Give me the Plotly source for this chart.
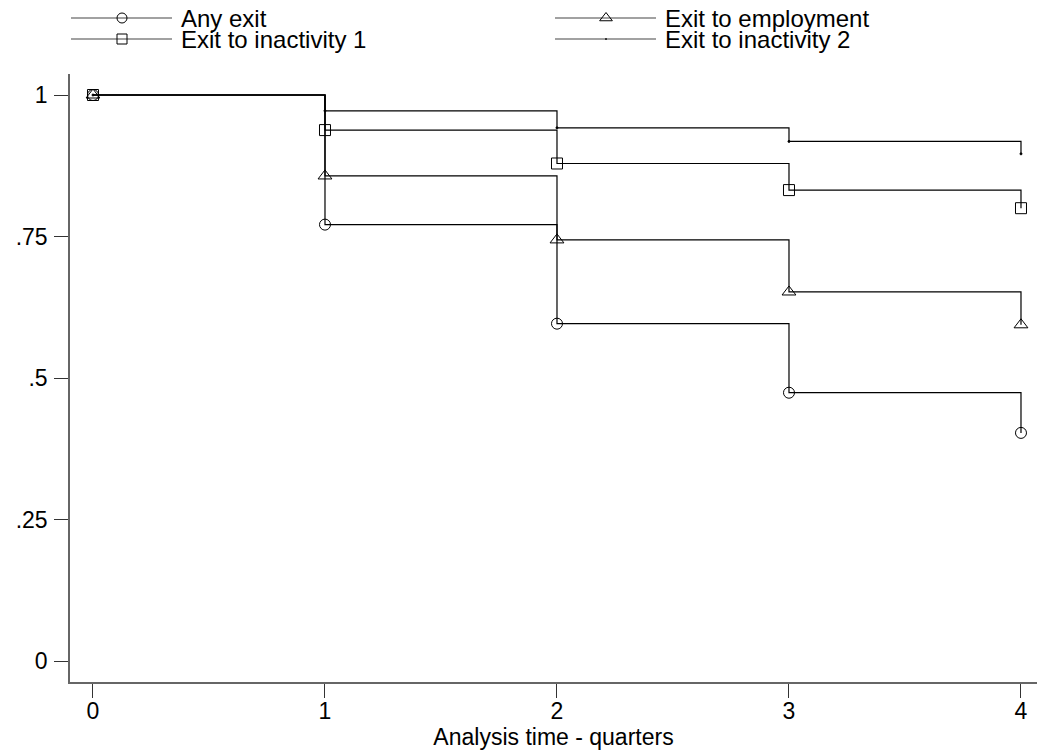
import plotly.graph_objects as go

# ---- data ----
times = [0, 1, 2, 3, 4]
any_exit = [1.0, 0.771, 0.596, 0.474, 0.403]
exit_employment = [1.0, 0.857, 0.744, 0.652, 0.594]
exit_inactivity1 = [1.0, 0.938, 0.879, 0.832, 0.800]
exit_inactivity2 = [1.0, 0.972, 0.942, 0.918, 0.896]

series_names = ["Any exit", "Exit to employment", "Exit to inactivity 1", "Exit to inactivity 2"]
x_ticks = [0, 1, 2, 3, 4]
y_ticks = [0, 0.25, 0.5, 0.75, 1]
y_ticktext = ["0", ".25", ".5", ".75", "1"]

W, H = 1037, 753
FONT = "Liberation Sans, Arial, sans-serif"

styles = {
    "Any exit": dict(symbol="circle-open", size=11),
    "Exit to employment": dict(symbol="triangle-up-open", size=12),
    "Exit to inactivity 1": dict(symbol="square-open", size=11),
    "Exit to inactivity 2": dict(symbol="circle", size=2),
}
values = {
    "Any exit": any_exit,
    "Exit to employment": exit_employment,
    "Exit to inactivity 1": exit_inactivity1,
    "Exit to inactivity 2": exit_inactivity2,
}

fig = go.Figure()
for name in series_names:
    st = styles[name]
    fig.add_trace(go.Scatter(
        x=times, y=values[name], mode="lines+markers", line_shape="hv",
        line=dict(color="black", width=1.2),
        marker=dict(symbol=st["symbol"], size=st["size"], color="black",
                    line=dict(color="black", width=1)),
        name=name, showlegend=False, xaxis="x", yaxis="y",
    ))

# ---- custom legend (pixel-space overlay axes) ----
leg_pos = {
    "Any exit": (71, 18),
    "Exit to employment": (555, 18),
    "Exit to inactivity 1": (71, 39),
    "Exit to inactivity 2": (555, 39),
}
for name in series_names:
    x0, y0 = leg_pos[name]
    st = styles[name]
    fig.add_trace(go.Scatter(
        x=[x0, x0 + 101], y=[y0, y0], mode="lines",
        line=dict(color="#444", width=1.2), showlegend=False,
        xaxis="x2", yaxis="y2", hoverinfo="skip",
    ))
    fig.add_trace(go.Scatter(
        x=[x0 + 51], y=[y0], mode="markers",
        marker=dict(symbol=st["symbol"], size=st["size"] - 1, color="black",
                    line=dict(color="black", width=1)),
        showlegend=False, xaxis="x2", yaxis="y2", hoverinfo="skip",
    ))
    fig.add_annotation(x=x0 + 108, y=y0, xref="x2", yref="y2", text=name,
                       showarrow=False, xanchor="left", yanchor="middle",
                       font=dict(family=FONT, size=24, color="black"))

fig.update_layout(
    width=W, height=H,
    margin=dict(l=0, r=0, t=0, b=0),
    paper_bgcolor="white", plot_bgcolor="rgba(0,0,0,0)",
    font=dict(family=FONT, size=23, color="black"),
    xaxis=dict(
        domain=[70 / W, 1], range=[-0.0991, 4.069],
        tickvals=x_ticks, ticktext=[str(t) for t in x_ticks],
        ticks="outside", ticklen=14, tickwidth=1, tickcolor="#333",
        ticklabelstandoff=-6,
        showline=True, linecolor="#666", linewidth=1.5,
        showgrid=False, zeroline=False,
        title=dict(text="Analysis time - quarters", standoff=0,
                   font=dict(size=23)),
        tickfont=dict(size=23), anchor="y",
    ),
    yaxis=dict(
        domain=[71 / H, 1 - 74 / H], range=[-0.0371, 1.0371],
        tickvals=y_ticks, ticktext=y_ticktext,
        ticks="outside", ticklen=14, tickwidth=1, tickcolor="#333",
        ticklabelstandoff=2,
        showline=True, linecolor="#666", linewidth=1.5,
        showgrid=False, zeroline=False,
        tickfont=dict(size=23), anchor="x",
    ),
    xaxis2=dict(domain=[0, 1], range=[0, W], visible=False, anchor="y2",
                fixedrange=True),
    yaxis2=dict(domain=[0, 1], range=[H, 0], visible=False, anchor="x2",
                fixedrange=True),
)

fig.write_html(
    "out.html",
    config={"displayModeBar": False},
    post_script="document.body.style.margin='0';document.body.style.padding='0';",
)
